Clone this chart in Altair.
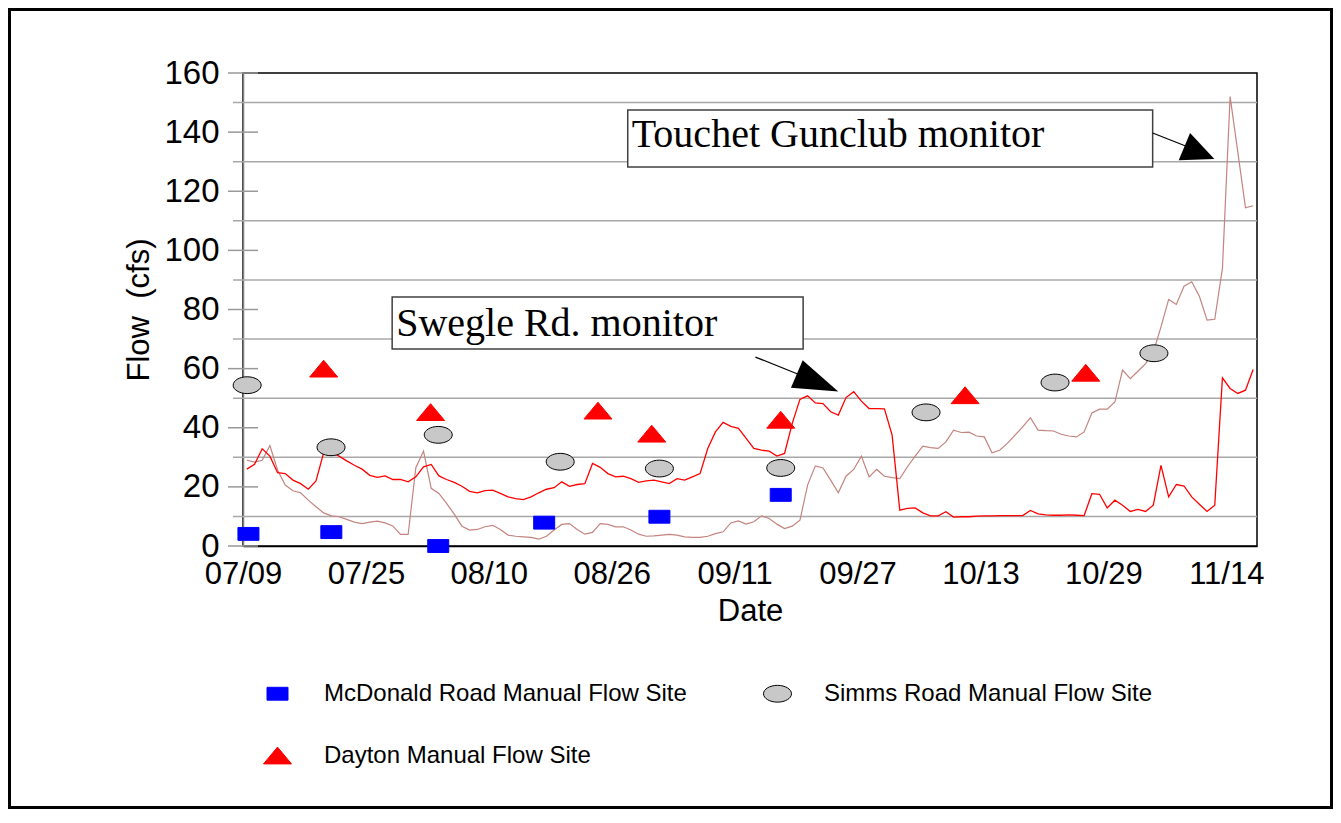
import altair as alt
import pandas as pd

# ---------------- data ----------------
# daily continuous-monitor flows (cfs), 07/09 .. 11/17
line_start = "2003-07-09T12:00"
swegle_flow = [26.0, 27.6, 32.9, 30.4, 24.8, 24.5, 22.3, 21.1, 19.2, 22.0, 31.5, 31.8, 30.4, 28.8, 27.3, 26.0, 23.9, 23.2, 23.7, 22.5, 22.5, 21.7,
               23.4, 26.8, 27.6, 23.7, 22.5, 21.5, 20.2, 18.5, 18.0, 18.7, 18.9, 17.8, 16.6, 16.0, 15.7, 16.6, 18.0, 19.2, 19.7, 21.7, 20.2, 20.8, 21.1,
               27.9, 26.6, 24.5, 23.4, 23.6, 22.8, 21.5, 22.0, 22.3, 21.7, 21.1, 22.8, 22.3, 23.4, 24.5, 33.0, 38.6, 41.8, 40.5, 39.8, 36.4,
               33.0, 32.4, 32.1, 30.4, 31.3, 41.5, 49.6, 50.8, 48.4, 48.2, 45.4, 44.3, 50.2, 52.2, 49.0, 46.5, 46.5, 46.4, 37.5, 12.1, 12.7, 12.9, 11.2,
               10.2, 10.2, 11.6, 9.8, 9.9, 9.9, 10.1, 10.2, 10.2, 10.3, 10.3, 10.3, 10.3, 12.0, 10.9, 10.5, 10.4, 10.4, 10.5, 10.4, 10.3,
               17.7, 17.5, 12.9, 15.5, 13.8, 11.7, 12.4, 11.7, 13.8, 27.3, 16.6, 20.8, 20.3, 16.6, 14.1, 11.7, 13.8, 56.9, 53.3, 51.6, 52.7, 59.7]
touchet_flow = [29.0, 28.4, 29.0, 34.0, 25.7, 20.6, 18.7, 18.0, 15.5, 13.3, 11.2, 10.2, 9.9, 9.0, 8.1, 7.6, 8.1, 8.4, 7.8, 6.8, 3.9, 3.9,
                26.5, 32.1, 19.5, 17.8, 14.4, 10.8, 6.7, 5.4, 5.6, 6.5, 7.0, 5.6, 3.7, 3.3, 3.1, 2.9, 2.3, 3.3, 5.4, 7.3, 7.6, 5.6, 4.0,
                4.6, 7.6, 7.3, 6.5, 6.5, 5.4, 4.0, 3.3, 3.4, 3.7, 3.9, 3.7, 3.1, 2.9, 2.9, 3.3, 4.2, 4.8, 7.8, 8.5, 7.4,
                8.2, 10.2, 9.3, 7.4, 5.9, 6.7, 8.7, 20.6, 27.1, 26.4, 22.3, 18.0, 23.6, 25.9, 30.4, 23.4, 25.9, 23.6, 23.1, 22.8, 26.8, 30.4, 33.8,
                33.3, 33.0, 35.2, 39.2, 38.4, 38.5, 37.2, 36.9, 31.5, 32.4, 34.7, 37.5, 40.3, 43.4, 39.2, 39.0, 38.9, 37.8, 37.2, 36.9, 38.6,
                45.0, 46.3, 46.3, 48.7, 59.5, 56.6, 59.1, 61.7, 65.5, 74.1, 83.4, 81.7, 87.9, 89.4, 84.5, 76.4, 76.7, 93.9, 152.0, 133.3, 114.4, 115.1]

# manual flow measurements
site_names = ["McDonald Road Manual Flow Site", "Simms Road Manual Flow Site", "Dayton Manual Flow Site"]
mcdonald_dates = ["2003-07-09T17:00", "2003-07-20T12:00", "2003-08-03T10:00", "2003-08-17T05:00",
                  "2003-09-01T05:00", "2003-09-17T00:00"]
mcdonald_flow = [4.1, 4.7, 0.0, 7.9, 9.9, 17.3]
simms_dates = ["2003-07-09T13:00", "2003-07-20T11:00", "2003-08-03T10:00", "2003-08-19T07:00",
               "2003-09-01T05:00", "2003-09-17T00:00", "2003-10-05T22:00", "2003-10-22T17:00", "2003-11-04T14:00"]
simms_flow = [54.4, 33.4, 37.6, 28.5, 26.2, 26.4, 45.2, 55.3, 65.2]
dayton_dates = ["2003-07-19T12:00", "2003-08-02T10:00", "2003-08-24T05:00", "2003-08-31T05:00",
                "2003-09-17T00:00", "2003-10-11T00:00", "2003-10-26T17:00"]
dayton_flow = [60.0, 45.3, 45.8, 38.0, 42.7, 51.0, 58.6]

# axes
tick_months = [7, 7, 8, 8, 9, 9, 10, 10, 11]
tick_days = [9, 25, 10, 26, 11, 27, 13, 29, 14]
y_label_values = [0, 20, 40, 60, 80, 100, 120, 140, 160]
y_grid_values = [10, 30, 50, 70, 90, 110, 130, 150]

# annotations (text, box corners, arrow)
ann_text = ["Touchet Gunclub monitor", "Swegle Rd. monitor"]
ann_box_x = ["2003-08-28T02:00", "2003-07-28T10:00"]
ann_box_x2 = ["2003-11-04T10:00", "2003-09-19T22:00"]
ann_box_y = [128.2, 66.6]
ann_box_y2 = [147.5, 84.2]
ann_text_y = [134.8, 71.0]
arrow_x = ["2003-11-04T10:00", "2003-09-13T17:00"]
arrow_x2 = ["2003-11-08T17:00", "2003-09-19T05:00"]
arrow_y = [139.7, 63.9]
arrow_y2 = [135.3, 58.2]
head_x = ["2003-11-10T12:00", "2003-09-21T19:00"]
head_y = [133.0, 55.2]

# ---------------- build ----------------
W, H = 1014, 473
FONT = "Liberation Sans"

dates = pd.date_range(line_start, periods=len(swegle_flow), freq="D").strftime("%Y-%m-%dT%H:%M")
swegle_df = pd.DataFrame({"date": dates, "flow": swegle_flow})
touchet_df = pd.DataFrame({"date": dates, "flow": touchet_flow})

pts = pd.DataFrame({
    "date": mcdonald_dates + simms_dates + dayton_dates,
    "flow": mcdonald_flow + simms_flow + dayton_flow,
    "site": [site_names[0]] * len(mcdonald_flow) + [site_names[1]] * len(simms_flow) + [site_names[2]] * len(dayton_flow),
})

x_scale = alt.Scale(domain=[alt.DateTime(year=2003, month=7, date=9), alt.DateTime(year=2003, month=11, date=18)])
y_scale = alt.Scale(domain=[0, 160], nice=False)
x_axis = alt.Axis(values=[alt.DateTime(year=2003, month=m, date=d) for m, d in zip(tick_months, tick_days)],
                  format="%m/%d", ticks=False, grid=False, labelFlush=False, labelOverlap=False,
                  labelFontSize=31, labelFont=FONT, labelColor="black", labelPadding=13,
                  domainColor="black", domainWidth=1.5, titleFontSize=31, titleFont=FONT,
                  titleFontWeight="normal", titleColor="black", titlePadding=7)
y_axis = alt.Axis(values=y_label_values, ticks=False, grid=False, labelFontSize=33, labelFont=FONT,
                  labelColor="black", labelPadding=24, domainColor="#808080", domainWidth=1.5,
                  titleFontSize=31, titleFont=FONT, titleFontWeight="normal", titleColor="black", titlePadding=8)

X = alt.X("date:T", scale=x_scale, axis=x_axis, title="Date")
Y = alt.Y("flow:Q", scale=y_scale, axis=y_axis, title="Flow\u00a0\u00a0(cfs)")

frame = alt.Chart(pd.DataFrame({"k": [0]})).mark_rect(fill="transparent", stroke="black", strokeWidth=3).encode(
    x=alt.value(-233.5), x2=alt.value(1088.5), y=alt.value(-63.5), y2=alt.value(734.5))

grid = alt.Chart(pd.DataFrame({"flow": y_grid_values})).mark_rule(color="#a8a8a8", strokeWidth=1.5).encode(
    y=Y, x=alt.value(-10), x2=alt.value(W))
ticks = alt.Chart(pd.DataFrame({"flow": y_label_values})).mark_rule(color="#999999", strokeWidth=1.5).encode(
    y=Y, x=alt.value(-15), x2=alt.value(15))

touchet_line = alt.Chart(touchet_df).mark_line(color="#c4847f", strokeWidth=1.2).encode(x=X, y=Y)
swegle_line = alt.Chart(swegle_df).mark_line(color="#ff0000", strokeWidth=1.3).encode(x=X, y=Y)

rect_path = "M-0.75,-0.46L0.75,-0.46L0.75,0.46L-0.75,0.46Z"
ellipse_path = "M-1,0A1,0.6,0,1,1,1,0A1,0.6,0,1,1,-1,0Z"
tri_path = "M0,-0.6L1,0.6L-1,0.6Z"

leg = alt.Legend(title=None, orient="none", legendX=20, legendY=606, columns=2, direction="horizontal",
                 columnPadding=74, rowPadding=35, symbolSize=784, symbolStrokeWidth=1,
                 labelFontSize=24, labelFont=FONT, labelColor="black", labelOffset=32, labelLimit=0, padding=0)
points = alt.Chart(pts).mark_point(filled=True, size=784, opacity=1, strokeWidth=1).encode(
    x=X, y=Y,
    fill=alt.Fill("site:N", scale=alt.Scale(domain=site_names, range=["#0000ff", "#c8c8c8", "#ff0000"]), legend=leg),
    stroke=alt.Stroke("site:N", scale=alt.Scale(domain=site_names, range=["#0000ff", "#000000", "#ff0000"]), legend=leg),
    shape=alt.Shape("site:N", scale=alt.Scale(domain=site_names, range=[rect_path, ellipse_path, tri_path]), legend=leg),
)

ann = pd.DataFrame({"text": ann_text, "date": ann_box_x, "date2": ann_box_x2, "flow": ann_box_y, "flow2": ann_box_y2})
ann_t = pd.DataFrame({"text": ann_text, "date": ann_box_x, "flow": ann_text_y})
boxes = alt.Chart(ann).mark_rect(fill="white", stroke="#404040", strokeWidth=1.5).encode(
    x=X, x2="date2:T", y=Y, y2="flow2:Q")
texts = alt.Chart(ann_t).mark_text(align="left", baseline="alphabetic", font="Liberation Serif", fontSize=40,
                                   color="black", dx=4).encode(x=X, y=Y, text="text:N")

arr = pd.DataFrame({"date": arrow_x, "date2": arrow_x2, "flow": arrow_y, "flow2": arrow_y2})
shafts = alt.Chart(arr).mark_rule(color="black", strokeWidth=1.2).encode(x=X, x2="date2:T", y=Y, y2="flow2:Q")
head1 = alt.Chart(pd.DataFrame({"date": head_x[:1], "flow": head_y[:1]})).mark_point(
    shape="M-1,-0.908L1,0L-1,0.908Z", size=1056, angle=22.6, filled=True, color="black", opacity=1).encode(x=X, y=Y)
head2 = alt.Chart(pd.DataFrame({"date": head_x[1:], "flow": head_y[1:]})).mark_point(
    shape="M-1,-0.667L1,0L-1,0.667Z", size=2025, angle=23, filled=True, color="black", opacity=1).encode(x=X, y=Y)

chart = alt.layer(frame, grid, ticks, touchet_line, swegle_line, points, boxes, texts, shafts, head1, head2).properties(
    width=W, height=H, autosize="none",
    padding={"left": 235, "top": 65, "right": 76, "bottom": 263},
    background="white",
).configure_view(stroke="black", strokeWidth=1.5)

chart.save("out.html", embed_options={"renderer": "svg", "actions": False})
